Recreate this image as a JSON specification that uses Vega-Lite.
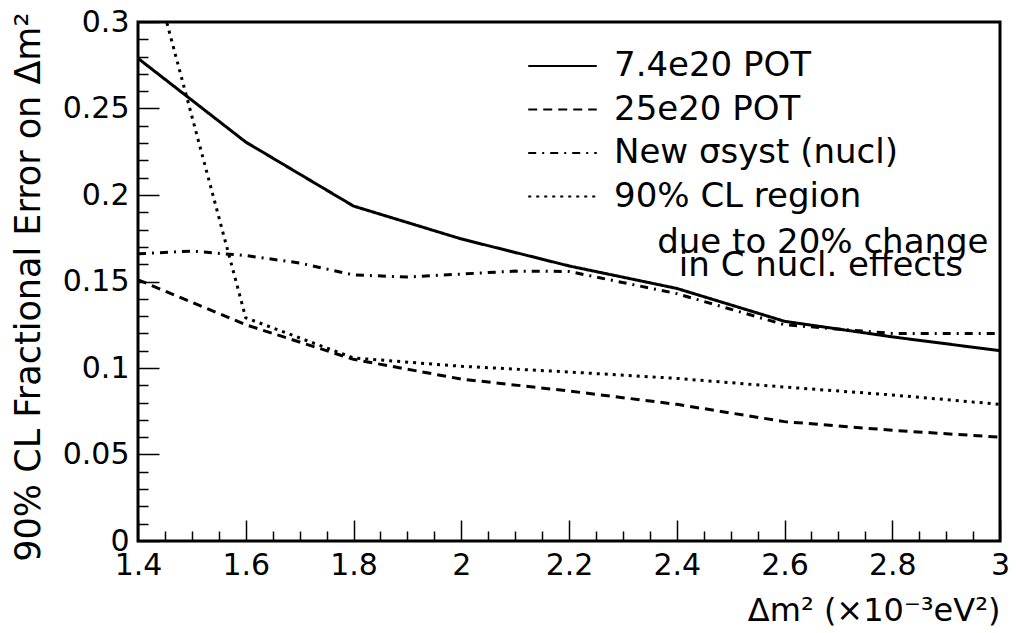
{
  "$schema": "https://vega.github.io/schema/vega-lite/v6.json",
  "width": 862,
  "height": 519,
  "autosize": {"type": "none"},
  "padding": {"left": 138, "top": 22, "right": 16, "bottom": 92},
  "background": "white",
  "config": {
    "view": {"stroke": "black", "strokeWidth": 3},
    "font": "DejaVu Sans",
    "style": {"guide-label": {"lineHeight": 23}}
  },
  "data": {
    "values": [
      {"s": "7.4e20 POT", "x": 1.4, "y": 0.279},
      {"s": "7.4e20 POT", "x": 1.6, "y": 0.2306},
      {"s": "7.4e20 POT", "x": 1.8, "y": 0.1936},
      {"s": "7.4e20 POT", "x": 2.0, "y": 0.1746},
      {"s": "7.4e20 POT", "x": 2.2, "y": 0.159},
      {"s": "7.4e20 POT", "x": 2.4, "y": 0.146},
      {"s": "7.4e20 POT", "x": 2.6, "y": 0.127},
      {"s": "7.4e20 POT", "x": 2.8, "y": 0.118},
      {"s": "7.4e20 POT", "x": 3.0, "y": 0.110},
      {"s": "25e20 POT", "x": 1.4, "y": 0.151},
      {"s": "25e20 POT", "x": 1.6, "y": 0.125},
      {"s": "25e20 POT", "x": 1.8, "y": 0.105},
      {"s": "25e20 POT", "x": 2.0, "y": 0.0936},
      {"s": "25e20 POT", "x": 2.2, "y": 0.0867},
      {"s": "25e20 POT", "x": 2.4, "y": 0.079},
      {"s": "25e20 POT", "x": 2.6, "y": 0.069},
      {"s": "25e20 POT", "x": 2.8, "y": 0.064},
      {"s": "25e20 POT", "x": 3.0, "y": 0.060},
      {"s": "New σsyst (nucl)", "x": 1.4, "y": 0.166},
      {"s": "New σsyst (nucl)", "x": 1.5, "y": 0.1676},
      {"s": "New σsyst (nucl)", "x": 1.6, "y": 0.165},
      {"s": "New σsyst (nucl)", "x": 1.7, "y": 0.1607},
      {"s": "New σsyst (nucl)", "x": 1.8, "y": 0.1538},
      {"s": "New σsyst (nucl)", "x": 1.9, "y": 0.1526},
      {"s": "New σsyst (nucl)", "x": 2.0, "y": 0.1543},
      {"s": "New σsyst (nucl)", "x": 2.1, "y": 0.156},
      {"s": "New σsyst (nucl)", "x": 2.2, "y": 0.1558},
      {"s": "New σsyst (nucl)", "x": 2.4, "y": 0.143},
      {"s": "New σsyst (nucl)", "x": 2.6, "y": 0.125},
      {"s": "New σsyst (nucl)", "x": 2.8, "y": 0.120},
      {"s": "New σsyst (nucl)", "x": 3.0, "y": 0.120},
      {"s": "90% CL region", "x": 1.4, "y": 0.362},
      {"s": "90% CL region", "x": 1.6, "y": 0.129},
      {"s": "90% CL region", "x": 1.8, "y": 0.1058},
      {"s": "90% CL region", "x": 2.0, "y": 0.101},
      {"s": "90% CL region", "x": 2.2, "y": 0.0977},
      {"s": "90% CL region", "x": 2.4, "y": 0.094},
      {"s": "90% CL region", "x": 2.6, "y": 0.089},
      {"s": "90% CL region", "x": 2.8, "y": 0.0844},
      {"s": "90% CL region", "x": 3.0, "y": 0.079}
    ]
  },
  "mark": {"type": "line", "clip": true, "color": "black", "strokeWidth": 3},
  "encoding": {
    "x": {
      "field": "x",
      "type": "quantitative",
      "scale": {"domain": [1.4, 3.0], "nice": false, "zero": false},
      "axis": {
        "values": [1.4,1.45,1.5,1.55,1.6,1.65,1.7,1.75,1.8,1.85,1.9,1.95,2.0,2.05,2.1,2.15,2.2,2.25,2.3,2.35,2.4,2.45,2.5,2.55,2.6,2.65,2.7,2.75,2.8,2.85,2.9,2.95,3.0],
        "format": "~g",
        "labelExpr": "abs(datum.value*5 - round(datum.value*5)) < 0.000001 ? datum.label : ''",
        "labelOverlap": false,
        "labelFlush": false,
        "labelBound": false,
        "domain": false,
        "grid": false,
        "tickColor": "black",
        "tickWidth": 1.5,
        "tickSize": {"condition": {"test": "abs(datum.value*5 - round(datum.value*5)) < 0.000001", "value": -21}, "value": -10},
        "labelFont": "DejaVu Sans",
        "labelFontSize": 30,
        "labelColor": "black",
        "labelPadding": 30,
        "title": "Δm² (×10⁻³eV²)",
        "titleFont": "DejaVu Sans",
        "titleFontSize": 32,
        "titleFontWeight": "normal",
        "titleColor": "black",
        "titleAlign": "right",
        "titleBaseline": "alphabetic",
        "titleX": 862,
        "titleY": 79
      }
    },
    "y": {
      "field": "y",
      "type": "quantitative",
      "scale": {"domain": [0, 0.3], "nice": false},
      "axis": {
        "values": [0,0.01,0.02,0.03,0.04,0.05,0.06,0.07,0.08,0.09,0.1,0.11,0.12,0.13,0.14,0.15,0.16,0.17,0.18,0.19,0.2,0.21,0.22,0.23,0.24,0.25,0.26,0.27,0.28,0.29,0.3],
        "format": "~g",
        "labelExpr": "abs(datum.value*20 - round(datum.value*20)) < 0.000001 ? datum.label : ''",
        "labelOverlap": false,
        "labelFlush": false,
        "labelBound": false,
        "domain": false,
        "grid": false,
        "tickColor": "black",
        "tickWidth": 1.5,
        "tickSize": {"condition": {"test": "abs(datum.value*20 - round(datum.value*20)) < 0.000001", "value": -21}, "value": -10},
        "labelFont": "DejaVu Sans",
        "labelFontSize": 30,
        "labelColor": "black",
        "labelPadding": 30,
        "title": "90% CL Fractional Error on Δm²",
        "titleFont": "DejaVu Sans",
        "titleFontSize": 35,
        "titleFontWeight": "normal",
        "titleColor": "black",
        "titleAngle": 270,
        "titleAlign": "right",
        "titleBaseline": "middle",
        "titleX": -110,
        "titleY": -10
      }
    },
    "strokeDash": {
      "field": "s",
      "type": "nominal",
      "scale": {
        "domain": ["7.4e20 POT", "25e20 POT", "New σsyst (nucl)", "90% CL region"],
        "range": [[1, 0], [9, 6], [8, 6, 2, 6], [3, 5]]
      },
      "legend": {
        "orient": "none",
        "legendX": 389,
        "legendY": 24,
        "title": null,
        "padding": 0,
        "symbolType": "stroke",
        "symbolSize": 4700,
        "symbolStrokeWidth": 2,
        "symbolStrokeColor": "black",
        "clipHeight": 40,
        "rowPadding": 3.5,
        "labelFont": "DejaVu Sans",
        "labelFontSize": 34,
        "labelColor": "black",
        "labelOffset": 16,
        "labelLimit": 0,
        "labelExpr": "datum.label == '90% CL region' ? ['90% CL region', '\u200b', '\u200b\u00a0\u00a0\u00a0\u00a0due to 20% change', '\u200b\u00a0\u00a0\u00a0\u00a0\u00a0\u00a0in C nucl. effects'] : datum.label"
      }
    }
  }
}
